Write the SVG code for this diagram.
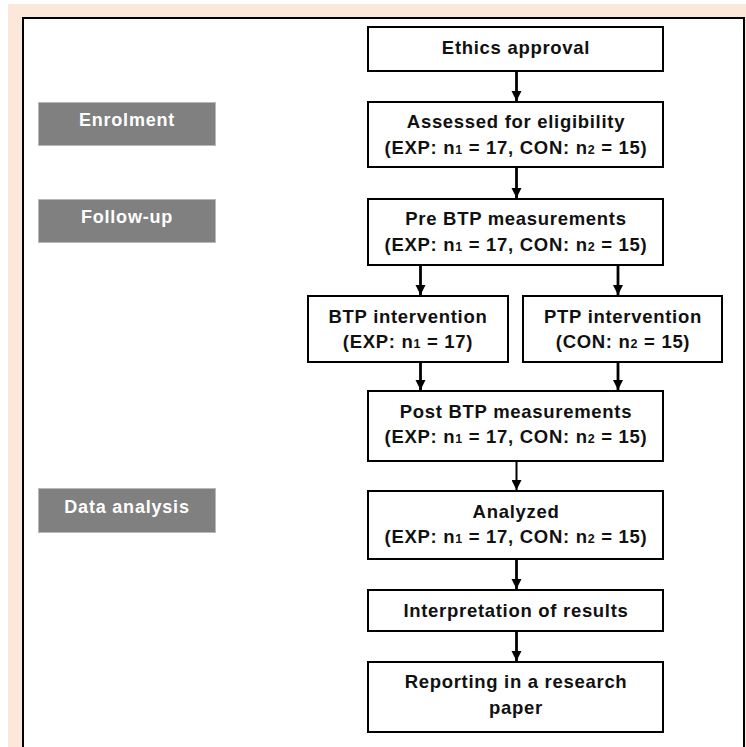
<svg xmlns="http://www.w3.org/2000/svg" width="746" height="747" viewBox="0 0 746 747">
<style>
.box{fill:#fff;stroke:#000;stroke-width:2}
.lab{fill:#808080;stroke:#b8b8b8;stroke-width:1}
.t{font-family:"Liberation Sans",Arial,sans-serif;font-weight:bold;font-size:18.5px;fill:#111;text-anchor:middle;letter-spacing:0.7px}
.w{font-family:"Liberation Sans",Arial,sans-serif;font-weight:bold;font-size:18px;fill:#fff;text-anchor:middle;letter-spacing:0.8px}
.s{font-size:12.5px}
.c{stroke:#000;stroke-width:2.8;fill:none}
</style>
<defs>
<marker id="ah" viewBox="0 0 10 10" refX="10" refY="5" markerWidth="3.6" markerHeight="3.6" markerUnits="strokeWidth" orient="auto">
<path d="M0,0 L10,5 L0,10 z" fill="#000"/>
</marker>
<marker id="ah2" viewBox="0 0 10 10" refX="10" refY="5" markerWidth="5" markerHeight="5" markerUnits="strokeWidth" orient="auto">
<path d="M0,0 L10,5 L0,10 z" fill="#000"/>
</marker>
</defs>
<rect x="0" y="0" width="746" height="747" fill="#fff"/>
<rect x="8" y="4" width="738" height="743" fill="#fce8da"/>
<path d="M23,747 V18 H744 V747" fill="#fff" stroke="#000" stroke-width="2"/>

<g id="enrolment"><rect class="lab" x="38.5" y="102.5" width="177" height="43"/><text class="w" x="127" y="126">Enrolment</text></g>
<g id="followup"><rect class="lab" x="38.5" y="199.5" width="177" height="43"/><text class="w" x="127" y="223">Follow-up</text></g>
<g id="dataanalysis"><rect class="lab" x="38.5" y="488.5" width="177" height="44"/><text class="w" x="127" y="513">Data analysis</text></g>

<g id="ethics"><rect class="box" x="368" y="27" width="295" height="44"/><text class="t" x="516" y="54">Ethics approval</text></g>
<g id="assessed"><rect class="box" x="368" y="102" width="295" height="65"/><text class="t" x="516" y="128">Assessed for eligibility</text><text class="t" x="516" y="154">(EXP: n<tspan class="s">1</tspan> = 17, CON: n<tspan class="s">2</tspan> = 15)</text></g>
<g id="pre"><rect class="box" x="368" y="199" width="295" height="66"/><text class="t" x="516" y="225">Pre BTP measurements</text><text class="t" x="516" y="251">(EXP: n<tspan class="s">1</tspan> = 17, CON: n<tspan class="s">2</tspan> = 15)</text></g>
<g id="btp"><rect class="box" x="308" y="296" width="200" height="66"/><text class="t" x="408" y="323">BTP intervention</text><text class="t" x="408" y="348">(EXP: n<tspan class="s">1</tspan> = 17)</text></g>
<g id="ptp"><rect class="box" x="523" y="296" width="199" height="66"/><text class="t" x="623" y="323">PTP intervention</text><text class="t" x="623" y="348">(CON: n<tspan class="s">2</tspan> = 15)</text></g>
<g id="post"><rect class="box" x="368" y="391" width="295" height="70"/><text class="t" x="516" y="418">Post BTP measurements</text><text class="t" x="516" y="443">(EXP: n<tspan class="s">1</tspan> = 17, CON: n<tspan class="s">2</tspan> = 15)</text></g>
<g id="analyzed"><rect class="box" x="368" y="491" width="295" height="68"/><text class="t" x="516" y="518">Analyzed</text><text class="t" x="516" y="543">(EXP: n<tspan class="s">1</tspan> = 17, CON: n<tspan class="s">2</tspan> = 15)</text></g>
<g id="interp"><rect class="box" x="368" y="590" width="295" height="41"/><text class="t" x="516" y="617">Interpretation of results</text></g>
<g id="report"><rect class="box" x="368" y="662" width="295" height="70"/><text class="t" x="516" y="688">Reporting in a research</text><text class="t" x="516" y="714">paper</text></g>

<g id="connectors">
<line class="c" x1="516.5" y1="72" x2="516.5" y2="101" marker-end="url(#ah)"/>
<line class="c" x1="516.5" y1="168" x2="516.5" y2="198" marker-end="url(#ah)"/>
<line class="c" x1="420.5" y1="266" x2="420.5" y2="295" marker-end="url(#ah)"/>
<line class="c" x1="618" y1="266" x2="618" y2="295" marker-end="url(#ah)"/>
<line class="c" x1="420.5" y1="363" x2="420.5" y2="390" marker-end="url(#ah)"/>
<line class="c" x1="618" y1="363" x2="618" y2="390" marker-end="url(#ah)"/>
<line class="c" x1="516.5" y1="462" x2="516.5" y2="490" marker-end="url(#ah2)" style="stroke-width:2"/>
<line class="c" x1="516.5" y1="560" x2="516.5" y2="589" marker-end="url(#ah)"/>
<line class="c" x1="516.5" y1="632" x2="516.5" y2="661" marker-end="url(#ah)"/>
</g>
</svg>
